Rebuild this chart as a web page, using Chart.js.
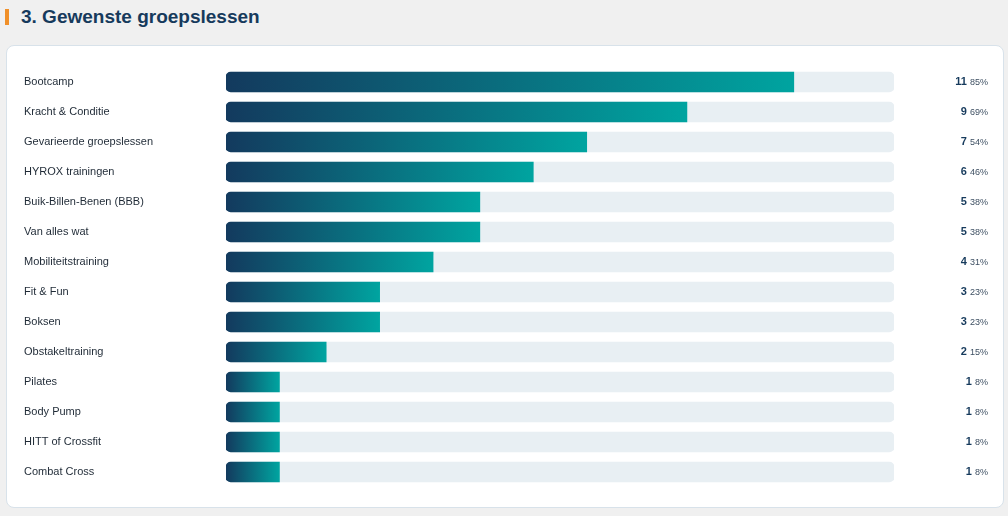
<!DOCTYPE html>
<html>
<head>
<meta charset="utf-8">
<script src="https://cdn.jsdelivr.net/npm/chart.js@4.4.1/dist/chart.umd.min.js"></script>
<style>
  html, body { margin: 0; padding: 0; background: #f0f0f0; font-family: "Liberation Sans", Arial, sans-serif; }
  .title { position: absolute; left: 5px; top: 6px; height: 22px; display: flex; align-items: center; }
  .title .mark { width: 4px; height: 16px; background: #f0902a; margin-right: 12px; }
  .title h2 { margin: 0; font-size: 19px; font-weight: bold; color: #163a5c; }
  .card { position: absolute; left: 6px; top: 45px; width: 996px; height: 461px; background: #fff;
          border: 1px solid #d8e2ea; border-radius: 8px; }
  .card canvas { position: absolute; left: 0; top: 0; }
</style>
</head>
<body>
<div class="title"><div class="mark"></div><h2>3. Gewenste groepslessen</h2></div>
<div class="card"><canvas id="lessenChart" width="996" height="461"></canvas></div>
<script>
const categories = ['Bootcamp', 'Kracht & Conditie', 'Gevarieerde groepslessen', 'HYROX trainingen',
    'Buik-Billen-Benen (BBB)', 'Van alles wat', 'Mobiliteitstraining', 'Fit & Fun', 'Boksen',
    'Obstakeltraining', 'Pilates', 'Body Pump', 'HITT of Crossfit', 'Combat Cross'];
const counts = [11, 9, 7, 6, 5, 5, 4, 3, 3, 2, 1, 1, 1, 1];
const percentages = [85, 69, 54, 46, 38, 38, 31, 23, 23, 15, 8, 8, 8, 8];
const track = categories.map(() => 100);

// Labels on the left and count + percentage on the right
const sideLabels = {
    id: 'sideLabels',
    afterDatasetsDraw(chart) {
        const ctx = chart.ctx;
        const y = chart.scales.y;
        ctx.save();
        ctx.textBaseline = 'middle';
        categories.forEach((name, i) => {
            const py = y.getPixelForValue(i);
            ctx.font = '11px "Liberation Sans", Arial, sans-serif';
            ctx.fillStyle = '#1f2a36';
            ctx.textAlign = 'left';
            ctx.fillText(name, 17, py);

            const pct = percentages[i] + '%';
            ctx.font = '9px "Liberation Sans", Arial, sans-serif';
            ctx.fillStyle = '#3d4f62';
            ctx.textAlign = 'right';
            const right = 981;
            ctx.fillText(pct, right, py + 0.5);
            const w = ctx.measureText(pct).width;
            ctx.font = 'bold 11px "Liberation Sans", Arial, sans-serif';
            ctx.fillStyle = '#163a5c';
            ctx.fillText(String(counts[i]), right - w - 3, py);
        });
        ctx.restore();
    }
};

function barGradient(context) {
    const chart = context.chart;
    const x = chart.scales.x;
    if (!chart.chartArea || !x) return '#0b6d80';
    const v = percentages[context.dataIndex];
    const x0 = x.getPixelForValue(0);
    const x1 = x.getPixelForValue(v);
    const g = chart.ctx.createLinearGradient(x0, 0, x1, 0);
    g.addColorStop(0, '#133a5e');
    g.addColorStop(1, '#00a4a0');
    return g;
}

new Chart(document.getElementById('lessenChart'), {
    type: 'bar',
    data: {
        labels: categories,
        datasets: [
            {
                label: 'Percentage',
                data: percentages,
                backgroundColor: barGradient,
                borderRadius: { topLeft: 5, bottomLeft: 5, topRight: 0, bottomRight: 0 },
                borderSkipped: false,
                barThickness: 20,
                grouped: false,
                order: 0
            },
            {
                label: 'Totaal',
                data: track,
                backgroundColor: '#e8eff3',
                borderRadius: 5,
                borderSkipped: false,
                barThickness: 20,
                grouped: false,
                order: 1
            }
        ]
    },
    options: {
        indexAxis: 'y',
        responsive: false,
        animation: false,
        layout: { padding: { left: 219, right: 109, top: 21, bottom: 20 } },
        scales: {
            x: { display: false, min: 0, max: 100 },
            y: { display: false }
        },
        plugins: {
            legend: { display: false },
            tooltip: { enabled: false }
        }
    },
    plugins: [sideLabels]
});
</script>
</body>
</html>
